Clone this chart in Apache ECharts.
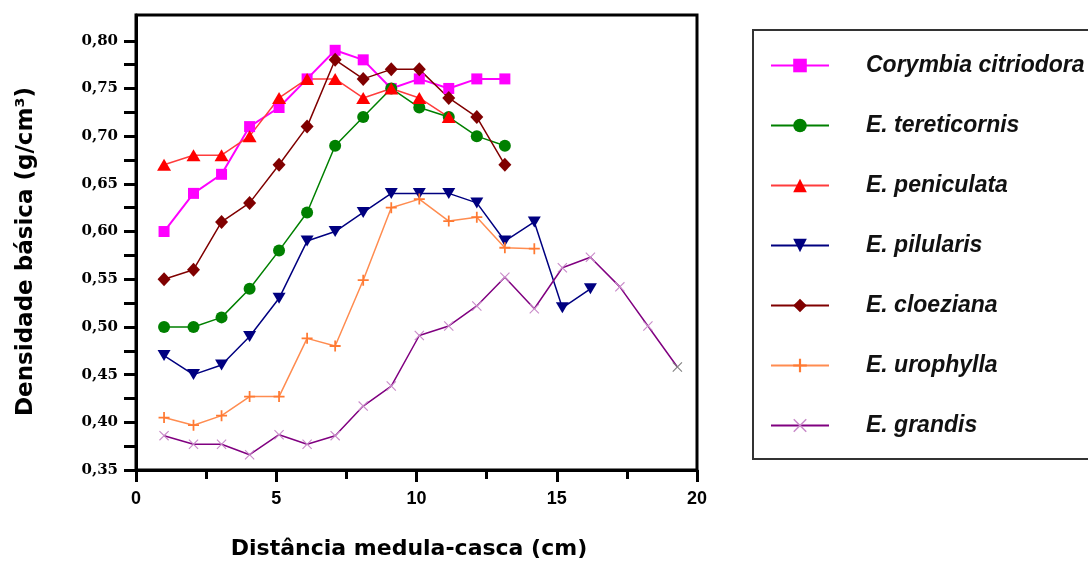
<!DOCTYPE html>
<html>
<head>
<meta charset="utf-8">
<script src="https://cdn.jsdelivr.net/npm/echarts@6/dist/echarts.min.js"></script>
<style>
	html, body { margin: 0; padding: 0; background: #fff; }
	#grafico { width: 1088px; height: 565px; }
</style>
</head>
<body>
<div id="grafico"></div>
<script>
	// distância medula-casca (cm) de cada ponto medido
	var distancias = [1, 2.05, 3.05, 4.05, 5.1, 6.1, 7.1, 8.1, 9.1, 10.1, 11.15, 12.15, 13.15, 14.2, 15.2, 16.2, 17.25, 18.25, 19.3];

	// densidade básica (g/cm3) por espécie
	var corymbia = [0.60, 0.64, 0.66, 0.71, 0.73, 0.76, 0.79, 0.78, 0.75, 0.76, 0.75, 0.76, 0.76];
	var tereticornis = [0.50, 0.50, 0.51, 0.54, 0.58, 0.62, 0.69, 0.72, 0.75, 0.73, 0.72, 0.70, 0.69];
	var peniculata = [0.67, 0.68, 0.68, 0.70, 0.74, 0.76, 0.76, 0.74, 0.75, 0.74, 0.72];
	var pilularis = [0.47, 0.45, 0.46, 0.49, 0.53, 0.59, 0.60, 0.62, 0.64, 0.64, 0.64, 0.63, 0.59, 0.61, 0.52, 0.54];
	var cloeziana = [0.55, 0.56, 0.61, 0.63, 0.67, 0.71, 0.78, 0.76, 0.77, 0.77, 0.74, 0.72, 0.67];
	var urophylla = [0.405, 0.397, 0.407, 0.427, 0.427, 0.488, 0.48, 0.549, 0.625, 0.634, 0.611, 0.615, 0.583, 0.582];
	var grandis = [0.386, 0.377, 0.377, 0.366, 0.387, 0.377, 0.386, 0.417, 0.438, 0.491, 0.501, 0.522, 0.552, 0.519, 0.562, 0.573, 0.542, 0.501, 0.458];

	var nomes = ['Corymbia citriodora', 'E. tereticornis', 'E. peniculata', 'E. pilularis', 'E. cloeziana', 'E. urophylla', 'E. grandis'];

	// marcas do eixo y (rótulos a cada 0,05 e traços a cada 0,025)
	var yRotulos = [0.35, 0.40, 0.45, 0.50, 0.55, 0.60, 0.65, 0.70, 0.75, 0.80];
	var yTracos = [0.35, 0.375, 0.40, 0.425, 0.45, 0.475, 0.50, 0.525, 0.55, 0.575, 0.60, 0.625, 0.65, 0.675, 0.70, 0.725, 0.75, 0.775, 0.80];

	var simboloMais = 'path://M4.2,0H5.8V4.2H10V5.8H5.8V10H4.2V5.8H0V4.2H4.2Z';
	var simboloX = 'path://M0.8,0L5,4.2L9.2,0L10,0.8L5.8,5L10,9.2L9.2,10L5,5.8L0.8,10L0,9.2L4.2,5L0,0.8Z';
	var trianguloBaixo = 'path://M0,0L10,0L5,8.7Z';

	function pares(valores) {
		return valores.map(function(v, i) {
			return [distancias[i], v];
		});
	}

	function serie(nome, valores, cor, corLinha, simbolo, tamanho, largura) {
		return {
			name: nome,
			type: 'line',
			data: pares(valores),
			symbol: simbolo,
			symbolSize: tamanho,
			showAllSymbol: true,
			itemStyle: { color: cor },
			lineStyle: { color: corLinha, width: largura },
			emphasis: { disabled: true },
			animation: false
		};
	}

	var chart = echarts.init(document.getElementById('grafico'));

	var serieGrandis = serie(nomes[6], grandis, '#c98bc9', '#800080', simboloX, 10, 1.5);
	// último ponto aparece cinza no original
	serieGrandis.data[serieGrandis.data.length - 1] = {
		value: serieGrandis.data[serieGrandis.data.length - 1],
		itemStyle: { color: '#808080' }
	};

	var option = {
		backgroundColor: '#fff',
		animation: false,
		grid: {
			left: 136,
			right: 391,
			top: 15,
			bottom: 93,
			show: true,
			borderColor: '#000',
			borderWidth: 3
		},
		xAxis: {
			type: 'value',
			min: 0,
			max: 20,
			interval: 5,
			name: 'Distância medula-casca (cm)',
			nameLocation: 'middle',
			nameGap: 68,
			nameTextStyle: {
				fontFamily: 'DejaVu Sans',
				fontWeight: 'bold',
				fontSize: 22,
				color: '#000',
				padding: [0, 15, 0, 0]
			},
			axisLine: { show: true, lineStyle: { color: '#000', width: 3 } },
			axisTick: { show: true, length: 12, lineStyle: { color: '#000', width: 3 } },
			minorTick: { show: true, splitNumber: 2, length: 9, lineStyle: { color: '#000', width: 3 } },
			splitLine: { show: false },
			axisLabel: {
				margin: 20,
				fontFamily: 'Liberation Sans',
				fontWeight: 'bold',
				fontSize: 18,
				color: '#000'
			}
		},
		yAxis: {
			type: 'value',
			min: 0.35,
			max: 0.827,
			interval: 0.05,
			name: 'Densidade básica (g/cm³)',
			nameLocation: 'middle',
			nameRotate: 90,
			nameGap: 98,
			nameTextStyle: {
				fontFamily: 'DejaVu Sans',
				fontWeight: 'bold',
				fontSize: 23,
				color: '#000',
				padding: [0, 18, 0, 0]
			},
			axisLine: { show: true, lineStyle: { color: '#000', width: 3 } },
			axisTick: { show: true, length: 12, customValues: yTracos, lineStyle: { color: '#000', width: 3 } },
			minorTick: { show: false },
			splitLine: { show: false },
			axisLabel: {
				margin: 18,
				customValues: yRotulos,
				fontFamily: 'DejaVu Serif',
				fontWeight: 'bold',
				fontSize: 15,
				color: '#000',
				formatter: function(v) {
					return v.toFixed(2).replace('.', ',');
				}
			}
		},
		legend: {
			orient: 'vertical',
			left: 753,
			top: 30,
			data: nomes,
			itemWidth: 58,
			itemHeight: 17,
			itemGap: 37,
			padding: [24, 80, 22, 17],
			borderColor: '#333',
			borderWidth: 2,
			selectedMode: false,
			formatter: '{t|{name}}',
			textStyle: {
				rich: {
					t: {
						fontFamily: 'Liberation Sans',
						fontStyle: 'italic',
						fontWeight: 'bold',
						fontSize: 23,
						color: '#111',
						padding: [0, 0, 0, 32]
					}
				}
			}
		},
		series: [
			serie(nomes[0], corymbia, '#ff00ff', '#ff00ff', 'rect', 11, 2),
			serie(nomes[1], tereticornis, '#008000', '#008000', 'circle', 12, 1.5),
			serie(nomes[2], peniculata, '#ff0000', '#ff3c3c', 'triangle', [14, 12], 1.5),
			serie(nomes[3], pilularis, '#000080', '#000080', trianguloBaixo, [13, 11], 1.5),
			serie(nomes[4], cloeziana, '#800000', '#800000', 'diamond', [13, 14], 1.5),
			serie(nomes[5], urophylla, '#ff7a33', '#ff8c50', simboloMais, 11, 1.5),
			serieGrandis
		]
	};

	chart.setOption(option);
</script>
</body>
</html>
